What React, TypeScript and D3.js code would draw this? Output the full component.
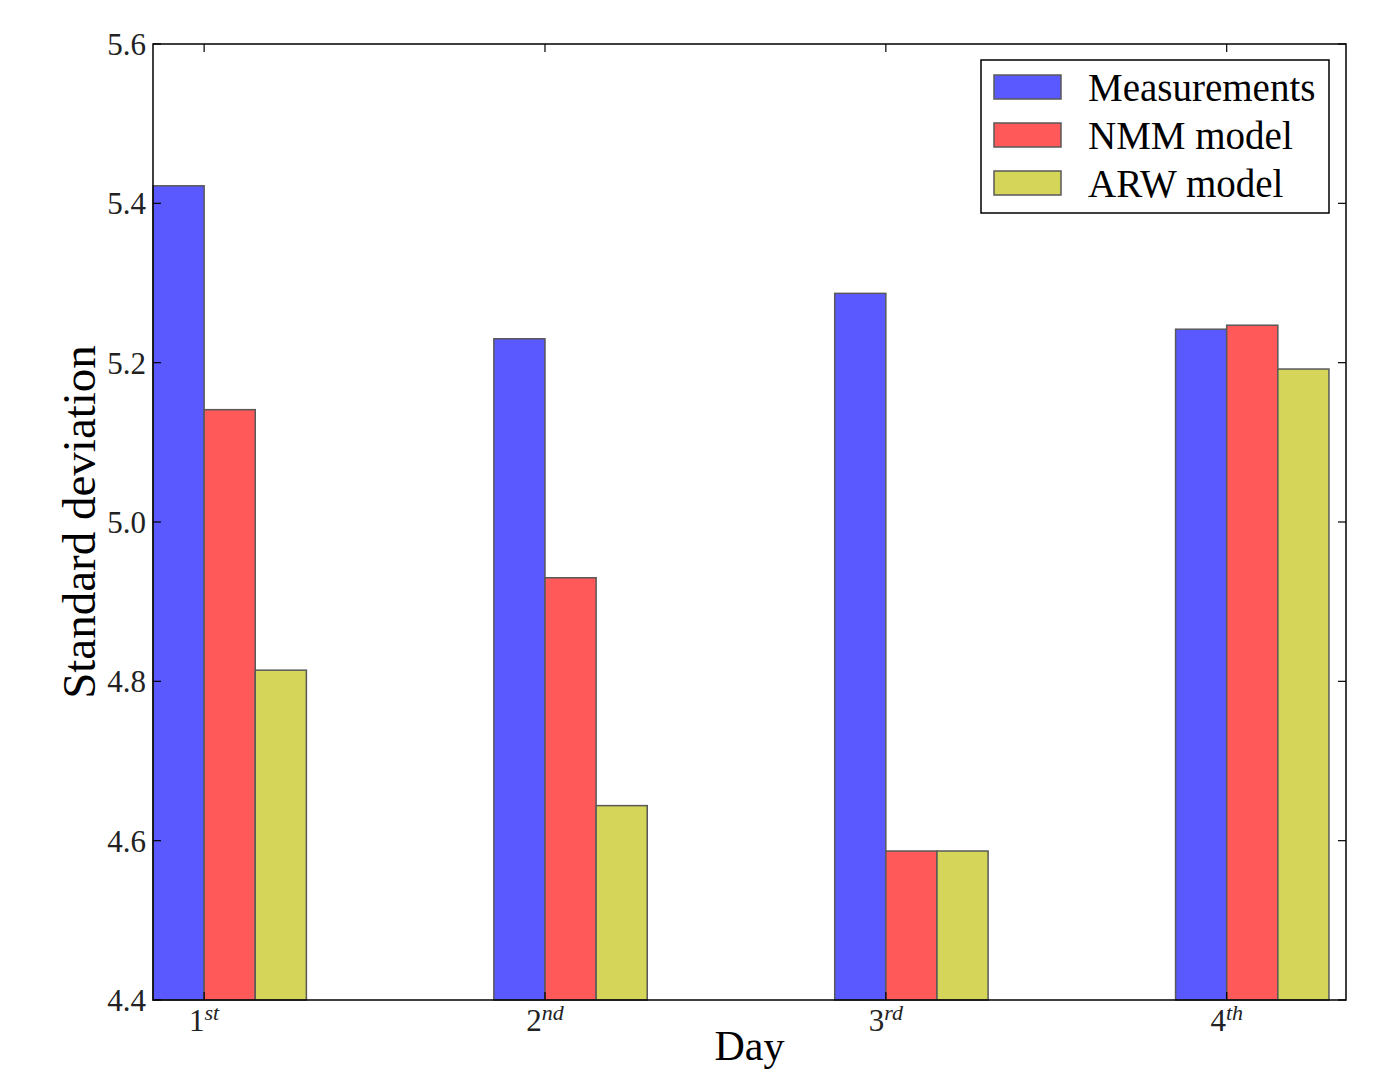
import { useEffect, useRef } from "react";
import * as d3 from "d3";

const days = ["1", "2", "3", "4"];
const daySuffix = ["st", "nd", "rd", "th"];
const seriesNames = ["Measurements", "NMM model", "ARW model"];
const measurements = [5.422, 5.23, 5.287, 5.242];
const nmmModel = [5.141, 4.93, 4.587, 5.247];
const arwModel = [4.814, 4.644, 4.587, 5.192];
const yTicks = [4.4, 4.6, 4.8, 5.0, 5.2, 5.4, 5.6];

const colors = ["#5959ff", "#ff5959", "#d5d559"];
const edge = "#595959";
const font = "'Liberation Serif', 'Times New Roman', serif";

export default function App() {
  const svgRef = useRef<SVGSVGElement>(null);

  useEffect(() => {
    document.body.style.margin = "0";
    if (!svgRef.current) return;
    d3.select(svgRef.current).selectAll("*").remove();

    const W = 1391;
    const H = 1069;
    const margin = { top: 44, right: 45, bottom: 69, left: 153 };
    const width = W - margin.left - margin.right;
    const height = H - margin.top - margin.bottom;
    const barW = 0.15;

    const svg = d3
      .select(svgRef.current)
      .attr("width", W)
      .attr("height", H)
      .append("g")
      .attr("transform", `translate(${margin.left},${margin.top})`);

    const x = d3.scaleLinear().domain([0, 3.5]).range([0, width]);
    const y = d3.scaleLinear().domain([4.4, 5.6]).range([height, 0]);

    const series = [measurements, nmmModel, arwModel];

    // Bars
    series.forEach((vals, s) => {
      svg
        .append("g")
        .selectAll("rect")
        .data(vals)
        .enter()
        .append("rect")
        .attr("x", (_, i) => x(i + s * barW))
        .attr("y", (d) => y(d))
        .attr("width", x(barW) - x(0))
        .attr("height", (d) => height - y(d))
        .attr("fill", colors[s])
        .attr("stroke", edge)
        .attr("stroke-width", 1.5);
    });

    // Frame
    svg
      .append("rect")
      .attr("x", 0)
      .attr("y", 0)
      .attr("width", width)
      .attr("height", height)
      .attr("fill", "none")
      .attr("stroke", "#000")
      .attr("stroke-width", 1.5);

    const tickLen = 8;

    // Y ticks (left + right, inward)
    yTicks.forEach((t) => {
      const yy = y(t);
      svg.append("line").attr("x1", 0).attr("x2", tickLen).attr("y1", yy).attr("y2", yy).attr("stroke", "#000").attr("stroke-width", 1.2);
      svg.append("line").attr("x1", width - tickLen).attr("x2", width).attr("y1", yy).attr("y2", yy).attr("stroke", "#000").attr("stroke-width", 1.2);
      svg
        .append("text")
        .attr("x", -7)
        .attr("y", yy)
        .attr("dy", "0.35em")
        .attr("text-anchor", "end")
        .attr("font-family", font)
        .attr("font-size", 31)
        .attr("fill", "#222")
        .text(t.toFixed(1));
    });

    // X ticks (top + bottom, inward)
    days.forEach((d, i) => {
      const xx = x(i + barW);
      svg.append("line").attr("x1", xx).attr("x2", xx).attr("y1", 0).attr("y2", tickLen).attr("stroke", "#000").attr("stroke-width", 1.2);
      svg.append("line").attr("x1", xx).attr("x2", xx).attr("y1", height - tickLen).attr("y2", height).attr("stroke", "#000").attr("stroke-width", 1.2);
      const label = svg
        .append("text")
        .attr("x", xx)
        .attr("y", height + 31)
        .attr("text-anchor", "middle")
        .attr("font-family", font)
        .attr("fill", "#222");
      label.append("tspan").attr("font-size", 31).text(d);
      label
        .append("tspan")
        .attr("font-size", 22)
        .attr("font-style", "italic")
        .attr("dy", -11)
        .text(daySuffix[i]);
    });

    // Axis labels
    svg
      .append("text")
      .attr("transform", `translate(${-58}, ${height / 2}) rotate(-90)`)
      .attr("text-anchor", "middle")
      .attr("font-family", font)
      .attr("font-size", 47)
      .attr("fill", "#000")
      .text("Standard deviation");

    svg
      .append("text")
      .attr("x", width / 2)
      .attr("y", height + 60)
      .attr("text-anchor", "middle")
      .attr("font-family", font)
      .attr("font-size", 42)
      .attr("fill", "#000")
      .text("Day");

    // Legend
    const legend = svg.append("g").attr("transform", `translate(${981 - margin.left}, ${60 - margin.top})`);
    legend
      .append("rect")
      .attr("width", 348)
      .attr("height", 153)
      .attr("fill", "#fff")
      .attr("stroke", "#000")
      .attr("stroke-width", 1.5);
    seriesNames.forEach((name, i) => {
      const cy = 27 + i * 48;
      legend
        .append("rect")
        .attr("x", 13)
        .attr("y", cy - 12)
        .attr("width", 67)
        .attr("height", 24)
        .attr("fill", colors[i])
        .attr("stroke", edge)
        .attr("stroke-width", 1.5);
      legend
        .append("text")
        .attr("x", 107)
        .attr("y", cy)
        .attr("dy", "0.35em")
        .attr("font-family", font)
        .attr("font-size", 39)
        .attr("fill", "#000")
        .text(name);
    });
  }, []);

  return <svg ref={svgRef} style={{ display: "block" }} />;
}
